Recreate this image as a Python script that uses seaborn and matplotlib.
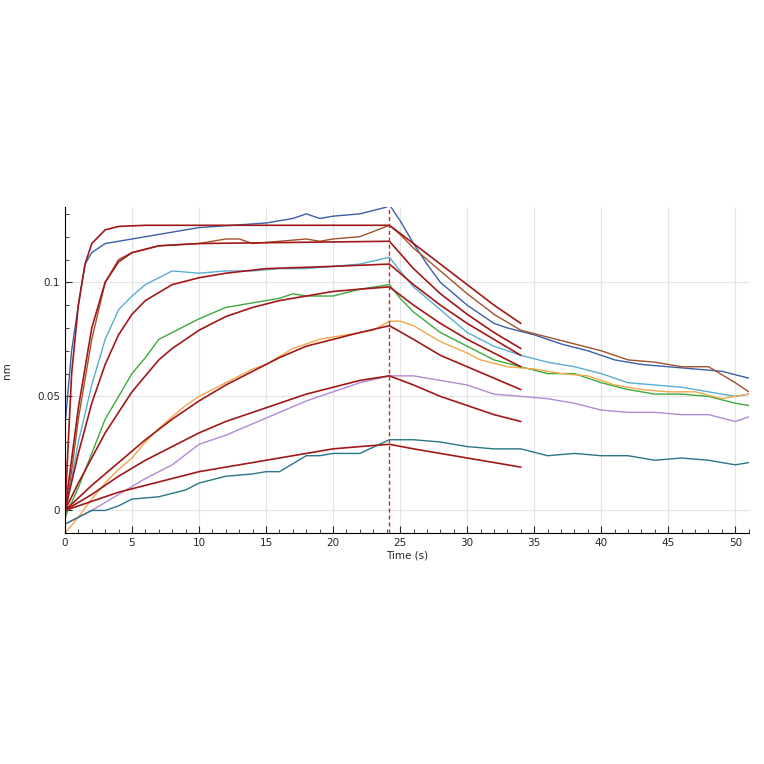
import matplotlib
matplotlib.use("Agg")
import matplotlib.pyplot as plt
import seaborn as sns
import pandas as pd
from matplotlib.ticker import MultipleLocator

sns.set_style("white")
plt.rcParams['font.family'] = ['DejaVu Sans']

# measured data curves (time, response)
blue_t = [0,0.5,1,1.5,2,3,5,8,10,15,17,18,19,20,22,24,24.2,25,26,27,28,30,32,33,35,37,39,41,43,45,47,49,51]
blue_y = [0.037,0.07,0.09,0.108,0.113,0.117,0.119,0.122,0.124,0.126,0.128,0.13,0.128,0.129,0.13,0.133,0.134,0.127,0.117,0.108,0.1,0.09,0.082,0.08,0.077,0.073,0.07,0.066,0.064,0.063,0.062,0.061,0.058]
brown_t = [0,1,2,3,4,5,7,10,12,13,14,16,18,19,20,22,24.2,25,26,28,30,32,34,36,38,40,42,44,46,48,50,51]
brown_y = [-0.005,0.04,0.075,0.1,0.11,0.113,0.116,0.117,0.119,0.119,0.117,0.118,0.119,0.118,0.119,0.12,0.125,0.121,0.115,0.105,0.095,0.086,0.079,0.076,0.073,0.07,0.066,0.065,0.063,0.063,0.056,0.052]
cyan_t = [0,1,2,3,4,5,6,7,8,10,12,14,16,18,20,22,24.2,25,26,28,30,32,34,36,38,40,42,44,46,48,50,51]
cyan_y = [-0.002,0.03,0.055,0.075,0.088,0.094,0.099,0.102,0.105,0.104,0.105,0.105,0.106,0.106,0.107,0.108,0.111,0.105,0.098,0.088,0.078,0.072,0.068,0.065,0.063,0.06,0.056,0.055,0.054,0.052,0.05,0.051]
green_t = [0,1,2,3,4,5,6,7,8,10,12,14,16,17,18,20,22,24.2,25,26,28,30,32,34,36,38,40,42,44,46,48,50,51]
green_y = [-0.003,0.01,0.025,0.04,0.05,0.06,0.067,0.075,0.078,0.084,0.089,0.091,0.093,0.095,0.094,0.094,0.097,0.099,0.093,0.087,0.078,0.072,0.066,0.063,0.06,0.06,0.056,0.053,0.051,0.051,0.05,0.047,0.046]
orange_t = [0,1,2,3,4,5,6,7,8,9,10,12,14,15,17,19,21,23,24.2,25,26,28,30,31,33,35,37,39,41,43,45,47,49,51]
orange_y = [-0.01,-0.003,0.005,0.012,0.018,0.023,0.03,0.036,0.041,0.046,0.05,0.056,0.062,0.064,0.071,0.075,0.077,0.079,0.083,0.083,0.081,0.074,0.069,0.066,0.063,0.062,0.06,0.059,0.055,0.053,0.052,0.052,0.049,0.051]
purple_t = [0,2,4,6,8,10,12,14,16,18,20,22,24.2,26,28,30,32,34,36,38,40,42,44,46,48,50,51]
purple_y = [-0.006,0.0,0.007,0.014,0.02,0.029,0.033,0.038,0.043,0.048,0.052,0.056,0.059,0.059,0.057,0.055,0.051,0.05,0.049,0.047,0.044,0.043,0.043,0.042,0.042,0.039,0.041]
teal_t = [0,2,3,4,5,7,9,10,12,14,15,16,18,19,20,22,24.2,26,28,30,32,34,36,38,40,42,44,46,48,50,51]
teal_y = [-0.006,0.0,0.0,0.002,0.005,0.006,0.009,0.012,0.015,0.016,0.017,0.017,0.024,0.024,0.025,0.025,0.031,0.031,0.03,0.028,0.027,0.027,0.024,0.025,0.024,0.024,0.022,0.023,0.022,0.02,0.021]

# fitted curves
fit1_t = [0,0.5,1,1.5,2,3,4,6,24.2,26,28,30,32,34]
fit1_y = [0,0.06,0.09,0.108,0.117,0.123,0.1245,0.125,0.125,0.117,0.108,0.099,0.09,0.082]
fit2_t = [0,1,2,3,4,5,7,10,24.2,26,28,30,32,34]
fit2_y = [0,0.045,0.08,0.1,0.109,0.113,0.116,0.117,0.118,0.106,0.095,0.086,0.078,0.071]
fit3_t = [0,1,2,3,4,5,6,8,10,12,15,20,24.2,26,28,30,32,34]
fit3_y = [0,0.025,0.047,0.064,0.077,0.086,0.092,0.099,0.102,0.104,0.106,0.107,0.108,0.099,0.09,0.082,0.075,0.068]
fit4_t = [0,1,2,3,4,5,6,7,8,10,12,14,16,18,20,22,24.2,26,28,30,32,34]
fit4_y = [0,0.012,0.023,0.034,0.043,0.052,0.059,0.066,0.071,0.079,0.085,0.089,0.092,0.094,0.096,0.097,0.098,0.09,0.082,0.075,0.069,0.063]
fit5_t = [0,2,4,6,8,10,12,14,16,18,20,22,24.2,26,28,30,32,34]
fit5_y = [0,0.011,0.021,0.031,0.040,0.048,0.055,0.061,0.067,0.072,0.075,0.078,0.081,0.075,0.068,0.063,0.058,0.053]
fit6_t = [0,2,4,6,8,10,12,14,16,18,20,22,24.2,26,28,30,32,34]
fit6_y = [0,0.007,0.015,0.022,0.028,0.034,0.039,0.043,0.047,0.051,0.054,0.057,0.059,0.055,0.05,0.046,0.042,0.039]
fit7_t = [0,2,4,6,8,10,12,14,16,18,20,22,24.2,26,28,30,32,34]
fit7_y = [0,0.004,0.008,0.011,0.014,0.017,0.019,0.021,0.023,0.025,0.027,0.028,0.029,0.027,0.025,0.023,0.021,0.019]

data_series = [(blue_t, blue_y, "#3b5fa8"), (brown_t, brown_y, "#a0522d"),
               (cyan_t, cyan_y, "#5aaed0"), (green_t, green_y, "#3caa3c"),
               (orange_t, orange_y, "#f0a848"), (purple_t, purple_y, "#b08ad6"),
               (teal_t, teal_y, "#2a7688")]
fit_series = [(fit1_t, fit1_y), (fit2_t, fit2_y), (fit3_t, fit3_y), (fit4_t, fit4_y),
              (fit5_t, fit5_y), (fit6_t, fit6_y), (fit7_t, fit7_y)]

fig = plt.figure(figsize=(7.64, 7.64), dpi=100)
ax = fig.add_axes([0.085, 0.302, 0.895, 0.427])

for t, y, c in data_series:
    sns.lineplot(x=t, y=y, ax=ax, color=c, lw=1.0, estimator=None, sort=False)
for t, y in fit_series:
    sns.lineplot(x=t, y=y, ax=ax, color="#a01818", lw=1.2, estimator=None, sort=False)

ax.axvline(24.2, color="#c03030", ls=(0, (3, 2)), lw=1.0)

ax.set_xlim(0, 51)
ax.set_ylim(-0.010, 0.133)
ax.xaxis.set_major_locator(MultipleLocator(5))
ax.xaxis.set_minor_locator(MultipleLocator(1))
ax.yaxis.set_major_locator(MultipleLocator(0.05))
ax.yaxis.set_minor_locator(MultipleLocator(0.01))
ax.set_yticks([0, 0.05, 0.1])
ax.set_yticklabels(["0", "0.05", "0.1"])
ax.grid(True, which="major", color="#e4e4e4", lw=0.8)
for s in ["top", "right"]:
    ax.spines[s].set_visible(False)
for s in ["left", "bottom"]:
    ax.spines[s].set_color("black")
ax.tick_params(axis="both", which="major", direction="in", length=5, labelsize=7.5, left=True, bottom=True)
ax.tick_params(axis="both", which="minor", direction="in", length=3, left=True, bottom=True)
ax.set_xlabel("Time (s)", fontsize=7.5, labelpad=2)
ax.set_ylabel("nm", fontsize=7.5, labelpad=18)

fig.savefig("out.png", dpi=100)
